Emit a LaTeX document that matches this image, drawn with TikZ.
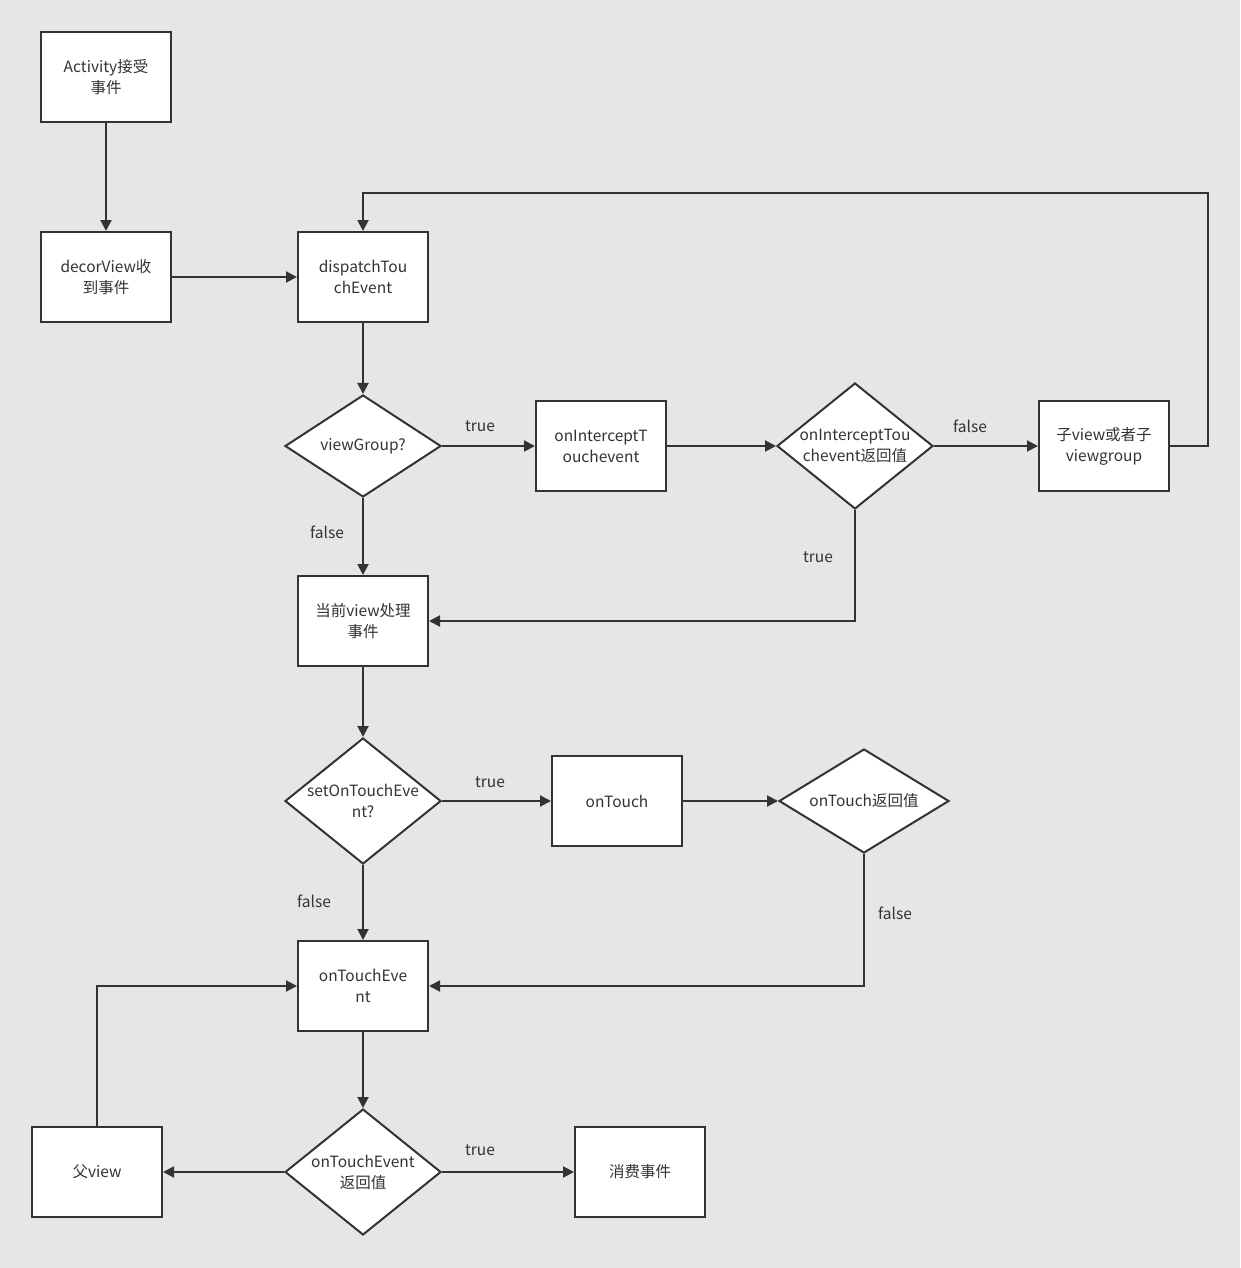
\documentclass[tikz,border=0pt]{standalone}
\usepackage{fontspec}
\setmainfont{Noto Sans CJK SC}
\usetikzlibrary{shapes.geometric,arrows.meta}
\definecolor{bg}{HTML}{E6E6E6}
\definecolor{ln}{HTML}{333333}
\begin{document}
\begin{tikzpicture}[x=1pt,y=-1pt,
  every node/.style={font=\fontsize{15.5}{21}\selectfont, text=ln, align=center},
  box/.style={draw=ln, line width=2pt, fill=white, minimum width=130pt, minimum height=90pt, inner sep=0pt},
  dia/.style={draw=ln, line width=2pt, fill=white, diamond, inner sep=0pt},
  ar/.style={draw=ln, line width=2pt, -{Triangle[length=11pt,width=11pt]}},
  lb/.style={font=\fontsize{15.5}{21}\selectfont}]
\fill[bg] (0,0) rectangle (1240,1268);
\useasboundingbox (0,0) rectangle (1240,1268);
\node[box] (act) at (106,77.5) {Activity接受\\事件};
\node[box] (dec) at (106,277) {decorView收\\到事件};
\node[box] (dis) at (363,277) {dispatchTou\\chEvent};
\node[dia, minimum width=156pt, minimum height=102pt, label={center:viewGroup?}] (vg) at (363,446) {};
\node[box] (oi) at (601,446) {onInterceptT\\ouchevent};
\node[dia, minimum width=156pt, minimum height=126pt, label={center:onInterceptTou\\chevent返回值}] (d2) at (855,446) {};
\node[box] (sub) at (1104,446) {子view或者子\\viewgroup};
\node[box] (cur) at (363,621) {当前view处理\\事件};
\node[dia, minimum width=156pt, minimum height=126pt, label={center:setOnTouchEve\\nt?}] (st) at (363,801) {};
\node[box] (ot) at (617,801) {onTouch};
\node[dia, minimum width=170pt, minimum height=104pt, label={center:onTouch返回值}] (d3) at (864,801) {};
\node[box] (ote) at (363,986) {onTouchEve\\nt};
\node[dia, minimum width=156pt, minimum height=126pt, label={center:onTouchEvent\\返回值}] (d4) at (363,1172) {};
\node[box] (par) at (97,1172) {父view};
\node[box] (con) at (640,1172) {消费事件};
\draw[ar] (act) -- (dec);
\draw[ar] (dec) -- (dis);
\draw[ar] (dis) -- (vg);
\draw[ar] (vg) -- (oi);
\draw[ar] (oi) -- (d2);
\draw[ar] (d2) -- (sub);
\draw[ar] (sub.east) -| (1208,193) -| (dis.north);
\draw[ar] (vg) -- (cur);
\draw[ar] (d2.south) |- (cur.east);
\draw[ar] (cur) -- (st);
\draw[ar] (st) -- (ot);
\draw[ar] (ot) -- (d3);
\draw[ar] (st) -- (ote);
\draw[ar] (d3.south) |- (ote.east);
\draw[ar] (ote) -- (d4);
\draw[ar] (d4) -- (con);
\draw[ar] (d4) -- (par);
\draw[ar] (par.north) |- (ote.west);
\node[lb] (l1) at (480,426) {true};
\node[lb] (l2) at (970,426) {false};
\node[lb] (l3) at (327,532) {false};
\node[lb] (l4) at (818,557) {true};
\node[lb] (l5) at (490,782) {true};
\node[lb] (l6) at (314,901) {false};
\node[lb] (l7) at (895,913) {false};
\node[lb] (l8) at (480,1150) {true};
\end{tikzpicture}
\end{document}
